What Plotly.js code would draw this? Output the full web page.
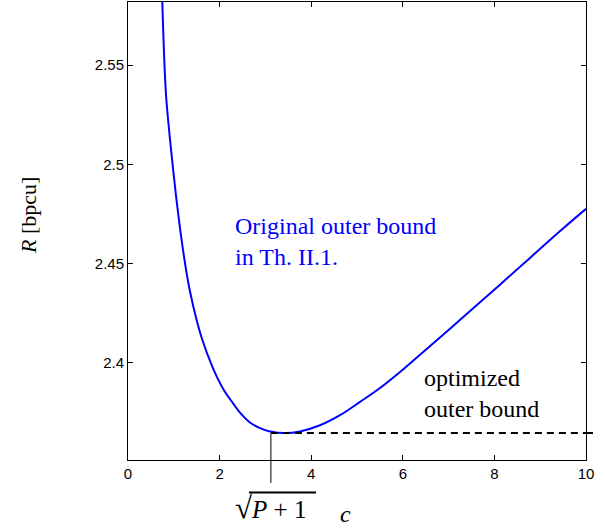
<!DOCTYPE html>
<html>
<head>
<meta charset="utf-8">
<script src="https://cdn.plot.ly/plotly-3.0.1.min.js"></script>
<style>html,body{margin:0;padding:0;background:#fff;}#chart{width:605px;height:531px;}</style>
</head>
<body>
<div id="chart"></div>
<script>
// Original outer bound (Th. II.1) as a function of c
const cOriginal = [0.749, 0.797, 0.838, 0.972, 1.059, 1.140, 1.201, 1.258, 1.347, 1.498, 1.624, 1.843, 1.941, 2.092, 2.290, 2.445, 2.664, 2.882, 3.100, 3.428, 3.755, 4.192, 4.629, 5.066, 5.502, 5.939, 6.376, 7.031, 7.686, 8.122, 8.777, 9.504, 10.0];
const rOriginal = [2.5818, 2.5500, 2.5324, 2.5002, 2.4820, 2.4669, 2.4568, 2.4482, 2.4366, 2.4215, 2.4114, 2.3978, 2.3928, 2.3862, 2.3796, 2.3748, 2.3698, 2.3670, 2.3653, 2.3645, 2.3653, 2.3684, 2.3735, 2.3802, 2.3872, 2.3953, 2.4040, 2.4171, 2.4304, 2.4393, 2.4528, 2.4677, 2.4775];
// Optimized outer bound (constant from c = sqrt(P+1))
const cSqrtP1 = 3.12;
const cOptimized = [cSqrtP1, 10];
const rOptimized = [2.3645, 2.3645];
// Axis ticks
const xTicks = [0, 2, 4, 6, 8, 10];
const xTickLabels = ['0', '2', '4', '6', '8', '10'];
const yTicks = [2.4, 2.45, 2.5, 2.55];
const yTickLabels = ['2.4', '2.45', '2.5', '2.55'];
const xRange = [0, 10];
const yRange = [2.3509, 2.5818];

const serif = 'Liberation Serif, Times New Roman, serif';
const sans = 'Liberation Sans, Arial, sans-serif';

const traces = [
  {x: cOriginal, y: rOriginal, type: 'scatter', mode: 'lines', line: {color: '#0000ff', width: 2, shape: 'spline', smoothing: 1}, hoverinfo: 'skip'},
  {x: cOptimized, y: rOptimized, type: 'scatter', mode: 'lines', line: {color: '#000000', width: 2, dash: '7px,5px'}, hoverinfo: 'skip'}
];

const axisCommon = {
  showgrid: false, zeroline: false, showline: true, linecolor: '#000', linewidth: 1,
  mirror: 'ticks', ticks: 'inside', ticklen: 5, tickcolor: '#000', tickwidth: 1,
  tickfont: {family: sans, size: 15, color: '#000'}
};

const layout = {
  width: 605, height: 531,
  margin: {l: 128, r: 19, t: 2, b: 71},
  paper_bgcolor: '#fff', plot_bgcolor: '#fff',
  showlegend: false,
  xaxis: Object.assign({}, axisCommon, {range: xRange, tickvals: xTicks, ticktext: xTickLabels}),
  yaxis: Object.assign({}, axisCommon, {range: yRange, tickvals: yTicks, ticktext: yTickLabels}),
  shapes: [
    // vertical marker at sqrt(P+1), extending below the axis
    {type: 'line', xref: 'x', yref: 'paper', x0: cSqrtP1, x1: cSqrtP1, y0: (460 - 433.3) / 458, y1: -0.05, line: {color: '#000', width: 1}},
    // dashed bound overhang past the right border
    {type: 'line', xref: 'paper', yref: 'y', x0: 1.0, x1: 1.024, y0: rOptimized[1], y1: rOptimized[1], line: {color: '#000', width: 2, dash: '7px,5px'}},
    // overline of the square root
    {type: 'line', xref: 'paper', yref: 'paper', x0: (249 - 128) / 458, x1: (316 - 128) / 458, y0: -(492.5 - 460) / 458, y1: -(492.5 - 460) / 458, line: {color: '#000', width: 2}}
  ],
  annotations: [
    {xref: 'paper', yref: 'paper', x: (28 - 128) / 458, y: (460 - 216) / 458, xanchor: 'center', yanchor: 'middle', textangle: -90, showarrow: false,
     text: '<i>R</i> [bpcu]', font: {family: serif, size: 22, color: '#000'}},
    {xref: 'x', yref: 'y', x: 2.29, y: 2.4613, xanchor: 'left', yanchor: 'middle', align: 'left', showarrow: false,
     text: 'Original outer bound<br>in Th. II.1.', font: {family: serif, size: 24, color: '#0000ff'}},
    {xref: 'x', yref: 'y', x: 6.43, y: 2.3844, xanchor: 'left', yanchor: 'middle', align: 'left', showarrow: false,
     text: 'optimized<br>outer bound', font: {family: serif, size: 24, color: '#000'}},
    {xref: 'x', yref: 'paper', x: cSqrtP1, y: -(507 - 460) / 458, xanchor: 'center', yanchor: 'middle', showarrow: false,
     text: '<span style="font-size:31px">√</span><i>P</i> + 1', font: {family: serif, size: 25, color: '#000'}},
    {xref: 'paper', yref: 'paper', x: (345 - 128) / 458, y: -(514 - 460) / 458, xanchor: 'center', yanchor: 'middle', showarrow: false,
     text: '<i>c</i>', font: {family: serif, size: 24, color: '#000'}}
  ]
};

Plotly.newPlot('chart', traces, layout, {staticPlot: true, displayModeBar: false});
</script>
</body>
</html>
